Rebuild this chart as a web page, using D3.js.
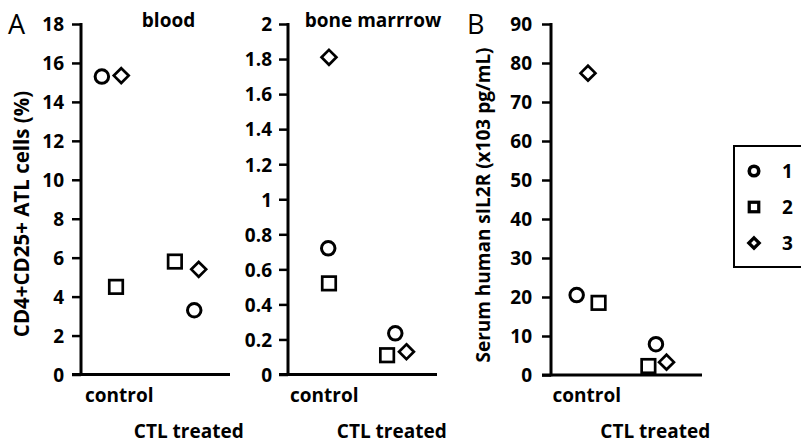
<!DOCTYPE html>
<html>
<head>
<meta charset="utf-8">
<script src="https://cdn.jsdelivr.net/npm/d3@7"></script>
<style>
  body { margin: 0; background: #fff; }
  text { font-family: "Open Sans", Lato, sans-serif; font-weight: 700; fill: #000; }
</style>
</head>
<body>
<svg id="chart" width="801" height="443"></svg>
<script>
// categories and series
var categories = ["control", "CTL treated"];
var seriesNames = ["1", "2", "3"];
var shapes = ["circle", "square", "diamond"];

// blood (%)
var bloodTicks = [0, 2, 4, 6, 8, 10, 12, 14, 16, 18];
var bloodValues = [[15.3, 3.3], [4.5, 5.8], [15.35, 5.4]];
var bloodX = [[0.28, 1.52], [0.47, 1.26], [0.54, 1.58]];

// bone marrow (%)
var marrowTicks = [0, 0.2, 0.4, 0.6, 0.8, 1, 1.2, 1.4, 1.6, 1.8, 2];
var marrowValues = [[0.72, 0.235], [0.52, 0.11], [1.81, 0.13]];
var marrowX = [[0.54, 1.44], [0.55, 1.33], [0.55, 1.59]];

// serum sIL2R
var serumTicks = [0, 10, 20, 30, 40, 50, 60, 70, 80, 90];
var serumValues = [[20.5, 7.9], [18.5, 2.3], [77.4, 3.3]];
var serumX = [[0.34, 1.39], [0.63, 1.29], [0.49, 1.53]];

var FONT = "19px";
var svg = d3.select("#chart");

function marker(g, shape, size, sw) {
  if (shape === "circle") {
    g.append("circle").attr("r", size * 0.5)
      .attr("fill", "none").attr("stroke", "#000").attr("stroke-width", sw);
  } else if (shape === "square") {
    g.append("rect").attr("x", -size * 0.5).attr("y", -size * 0.5)
      .attr("width", size).attr("height", size)
      .attr("fill", "none").attr("stroke", "#000").attr("stroke-width", sw * 0.9);
  } else {
    var h = size * 0.55;
    g.append("path").attr("d", "M0," + (-h) + "L" + h + ",0L0," + h + "L" + (-h) + ",0Z")
      .attr("fill", "none").attr("stroke", "#000").attr("stroke-width", sw * 0.9);
  }
}

function panel(opt) {
  var y = d3.scaleLinear().domain([0, opt.max]).range([opt.bottom, opt.top]);
  var x = d3.scaleLinear().domain([0, 2]).range([opt.left, opt.right]);
  var g = svg.append("g");

  var yAxis = g.append("g")
    .attr("transform", "translate(" + opt.left + ",0)")
    .call(d3.axisLeft(y).tickValues(opt.ticks).tickSize(9).tickPadding(opt.pad)
      .tickFormat(function(d) { return String(+d.toFixed(1)); }));
  yAxis.select(".domain").remove();
  yAxis.selectAll(".tick line").attr("stroke", "#000").attr("stroke-width", 2.5);
  yAxis.selectAll(".tick text").style("font-size", FONT).attr("dy", "0.36em");

  g.append("line").attr("x1", opt.left).attr("x2", opt.left)
    .attr("y1", y(opt.max) - 1).attr("y2", y(0) + 1.2)
    .attr("stroke", "#000").attr("stroke-width", 3);
  g.append("line").attr("x1", opt.left - 9).attr("x2", opt.right)
    .attr("y1", y(0)).attr("y2", y(0))
    .attr("stroke", "#000").attr("stroke-width", 3);

  // category labels, staggered
  g.append("text").attr("x", x(0.5) + opt.c0).attr("y", 402)
    .attr("text-anchor", "middle").style("font-size", FONT).text(categories[0]);
  g.append("text").attr("x", x(1.5) + opt.c1).attr("y", 438)
    .attr("text-anchor", "middle").style("font-size", FONT).text(categories[1]);

  if (opt.title) {
    g.append("text").attr("x", opt.titleX).attr("y", 27)
      .attr("text-anchor", "middle").style("font-size", FONT).text(opt.title);
  }

  opt.values.forEach(function(vals, s) {
    vals.forEach(function(v, i) {
      var m = g.append("g")
        .attr("transform", "translate(" + x(opt.xs[s][i]) + "," + y(v) + ")");
      marker(m, shapes[s], 13.5, 3);
    });
  });
}

panel({ left: 81, right: 230, top: 24, bottom: 374.5, max: 18, ticks: bloodTicks,
        values: bloodValues, xs: bloodX, pad: 8, title: "blood", titleX: 168.5, c0: 1, c1: -4 });
panel({ left: 288, right: 437, top: 24, bottom: 374.5, max: 2, ticks: marrowTicks,
        values: marrowValues, xs: marrowX, pad: 7, title: "bone marrrow", titleX: 373, c0: -1, c1: -8 });
panel({ left: 551, right: 702, top: 24, bottom: 375, max: 90, ticks: serumTicks,
        values: serumValues, xs: serumX, pad: 10, title: null, c0: -2, c1: -9 });

// axis titles
svg.append("text").attr("transform", "translate(29,214) rotate(-90)")
  .attr("text-anchor", "middle").style("font-size", "20.5px").text("CD4+CD25+ ATL cells (%)");
svg.append("text").attr("transform", "translate(490,205) rotate(-90)")
  .attr("text-anchor", "middle").style("font-size", "19px").text("Serum human sIL2R (x103 pg/mL)");

// panel letters
svg.append("text").attr("x", 8).attr("y", 34).style("font-size", "27px")
  .style("font-weight", 400).text("A");
svg.append("text").attr("x", 467).attr("y", 34).style("font-size", "27px")
  .style("font-weight", 400).text("B");

// legend
var legend = svg.append("g");
legend.append("rect").attr("x", 734).attr("y", 146).attr("width", 80).attr("height", 121)
  .attr("fill", "none").attr("stroke", "#000").attr("stroke-width", 2);
seriesNames.forEach(function(name, s) {
  var ly = 171 + s * 36;
  var m = legend.append("g").attr("transform", "translate(754," + ly + ")");
  marker(m, shapes[s], 9.5, 3.6);
  legend.append("text").attr("x", 782).attr("y", ly).attr("dy", "0.36em")
    .style("font-size", FONT).text(name);
});
</script>
</body>
</html>
